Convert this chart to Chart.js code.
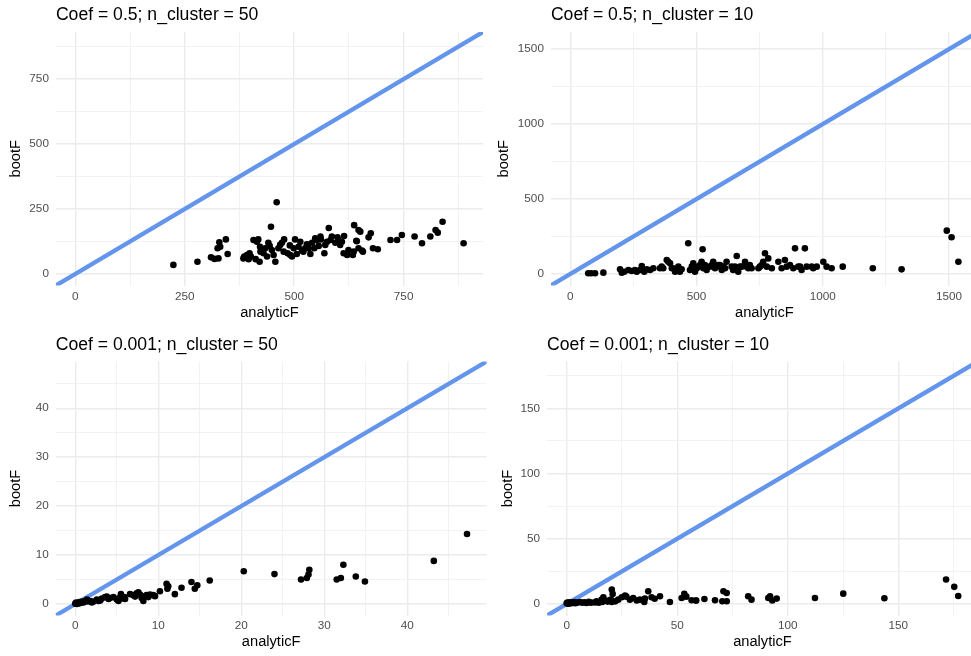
<!DOCTYPE html>
<html>
<head>
<meta charset="utf-8">
<script src="https://cdn.jsdelivr.net/npm/chart.js@4/dist/chart.umd.min.js"></script>
<style>
  html, body { margin: 0; padding: 0; background: #ffffff; }
  body { position: relative; width: 971px; height: 656px; overflow: hidden; }
  .panel { position: absolute; }
  .panel canvas { display: block; }
</style>
</head>
<body>
<div class="panel" style="left:0px;top:0px;"><canvas id="c05_n50" width="490" height="328"></canvas></div>
<div class="panel" style="left:485px;top:0px;"><canvas id="c05_n10" width="500" height="328"></canvas></div>
<div class="panel" style="left:0px;top:328px;"><canvas id="c0001_n50" width="490" height="328"></canvas></div>
<div class="panel" style="left:485px;top:328px;"><canvas id="c0001_n10" width="500" height="328"></canvas></div>
<script>
// ---- Coef = 0.5; n_cluster = 50 ----
const analyticF_c05_n50 = [224,279,310,318,327,325,329,331,344,348,384,392,396,398,401,407,418,421,422,430,
  434,438,441,447,449,457,460,453,464,472,477,476,485,495,499,502,506,510,514,518,
  525,531,537,541,546,552,556,561,569,571,579,583,586,594,599,609,614,613,621,624,
  634,637,642,647,651,647,655,670,675,680,691,720,735,746,775,792,811,823,828,839,
  887,415,423,444,468,491,521,529,548,560,575,601,605,643,636,657,386,412,490,533];
const bootF_c05_n50 = [35,47,64,58,60,99,122,105,133,77,60,73,57,80,67,131,133,47,105,80,
  99,67,120,182,92,47,276,73,99,120,133,86,80,67,99,133,77,105,124,90,
  99,112,77,120,99,131,108,133,80,112,177,131,144,120,141,124,146,80,73,92,
  73,188,128,169,163,99,90,141,157,99,95,131,131,150,144,118,144,169,159,201,
  118,124,86,108,112,73,86,114,137,144,124,131,112,126,86,86,67,57,110,98];
const breaks_c05_n50 = [0, 250, 500, 750];

// ---- Coef = 0.5; n_cluster = 10 ----
const analyticF_c05_n10 = [71,83,98,131,197,204,214,230,243,256,263,276,283,293,303,316,329,355,362,368,
  382,388,395,402,408,415,428,434,441,467,474,481,487,494,501,507,514,520,524,527,
  533,540,553,560,566,573,580,586,593,600,606,613,619,639,645,652,659,665,672,679,
  692,698,705,711,718,745,751,758,764,771,778,784,798,824,837,850,857,870,883,890,
  903,910,916,929,936,956,962,976,1002,1015,1035,1079,1198,1312,1491,1510,1537];
const bootF_c05_n10 = [5,5,5,9,31,9,15,27,20,27,15,27,53,15,31,27,38,38,49,38,
  93,82,71,38,38,15,49,15,31,205,27,49,71,15,38,49,60,82,165,38,
  60,27,49,60,82,38,49,60,60,27,49,38,82,49,27,49,120,15,49,49,
  82,49,38,60,38,38,49,60,82,138,49,104,38,82,38,93,49,60,38,171,
  49,49,27,171,49,49,38,49,82,49,38,49,38,31,289,245,82];
const breaks_c05_n10 = [0, 500, 1000, 1500];

// ---- Coef = 0.001; n_cluster = 50 ----
const analyticF_c0001_n50 = [0,0.1,0.2,0.3,0.5,0.6,0.8,1.0,1.2,1.4,1.5,2.2,2.6,3.0,3.2,3.6,3.8,4.2,4.6,5.0,
  5.3,5.5,5.6,5.9,6.6,7.0,7.4,7.6,7.8,8.0,8.2,8.4,8.6,9.0,9.4,9.6,10.2,11.0,11.2,11.1,
  12.0,12.8,14.0,14.4,14.7,16.2,20.3,24.0,27.2,27.9,28.1,28.2,31.5,32.0,32.3,33.8,34.9,43.2,47.2,0.05,
  0.15,0.4,0.7,1.8,2.0,2.8,4.0,5.2,6.0,7.2,8.8];
const bootF_c0001_n50 = [0.1,0.3,0,0.2,0.4,0.2,0.5,0.3,0.6,0.9,0.5,0.5,0.9,0.7,1.1,1.4,1.5,1.2,1.4,0.9,
  1.2,2.0,1.1,1.4,2.0,1.8,2.2,2.4,1.9,1.2,0.6,1.6,1.8,1.9,1.8,1.6,2.6,4.1,3.6,3.1,
  2.0,3.3,4.5,3.1,3.8,4.8,6.7,6.1,5.0,5.3,6.0,7.0,5.0,5.3,8.0,5.6,4.6,8.8,14.3,0.05,
  0.1,0.1,0.3,0.6,0.3,0.6,1.0,0.6,1.0,1.5,1.4];
const breaks_c0001_n50 = [0, 10, 20, 30, 40];

// ---- Coef = 0.001; n_cluster = 10 ----
const analyticF_c0001_n10 = [0,0.3,0.5,0.8,1.2,1.5,2.0,2.5,3.0,3.5,4.0,5.0,6.0,7.0,8.0,9.0,10.0,11.0,12.8,15.8,
  16.1,16.6,20.0,20.4,20.8,20.4,23.3,24.9,26.4,28.6,30.1,31.7,33.1,35.1,35.4,36.9,38.4,42.2,46.7,52.0,
  53.2,56.5,58.4,62.3,67.1,70.4,70.9,72.4,72.4,82.1,83.6,91.2,92.0,93.0,95.0,112.3,125.1,143.7,171.6,175.3,
  177.1,13.5,14.5,17.5,18.5,19.0,22.0,27.0,39.8,54.1,58.6];
const bootF_c0001_n10 = [0.5,1.0,0.2,0.8,0.4,1.2,0.6,1.0,0.8,1.4,0.5,1.1,1.5,0.9,1.3,0.7,1.6,1.0,1.2,3.3,
  1.5,5.1,3.3,1.5,7.7,11.0,3.3,5.1,6.4,3.3,4.6,2.6,3.3,1.5,4.1,9.7,5.1,5.9,1.5,4.6,
  7.7,2.8,2.6,3.8,2.8,2.1,9.7,8.4,2.1,5.9,3.3,4.6,5.9,2.6,4.1,4.6,7.9,4.4,18.7,13.1,
  6.1,2.0,1.0,2.5,1.8,2.6,2.0,5.6,4.0,5.6,2.6];
const breaks_c0001_n10 = [0, 50, 100, 150];

const FONT = '"Liberation Sans", Arial, Helvetica, sans-serif';
const GRID_MAJOR = '#EBEBEB';
const GRID_MINOR = '#F0F0F0';

// Panel title drawn flush with the left edge of the plotting area
const panelTitle = {
  id: 'panelTitle',
  afterDraw(chart, args, opts) {
    const { ctx, chartArea } = chart;
    ctx.save();
    ctx.font = '17.6px ' + FONT;
    ctx.fillStyle = '#000000';
    ctx.textAlign = 'left';
    ctx.textBaseline = 'alphabetic';
    ctx.fillText(opts.text, chartArea.left, opts.baseline);
    ctx.restore();
  }
};

// Shared axis limits: [0, max of both variables] widened by 5% on each side
function limits(xs, ys) {
  const hi = Math.max(0, ...xs, ...ys);
  const lo = Math.min(0, ...xs, ...ys);
  const pad = (hi - lo) * 0.05;
  return [lo - pad, hi + pad];
}

// Major breaks plus the minor lines half-way between them
function gridValues(breaks, lo, hi) {
  const step = breaks[1] - breaks[0];
  const out = [];
  for (let v = breaks[0] - step; v <= breaks[breaks.length - 1] + step + 1e-9; v += step / 2) {
    const r = Math.round(v * 1e6) / 1e6;
    if (r >= lo && r <= hi) out.push(r);
  }
  return out;
}

function axis(p, lo, hi, which) {
  const vals = gridValues(p.breaks, lo, hi);
  const isMajor = v => p.breaks.includes(v);
  const horizontal = which === 'x';
  return {
    type: 'linear',
    position: horizontal ? 'bottom' : 'left',
    min: lo,
    max: hi,
    afterBuildTicks: s => { s.ticks = vals.map(v => ({ value: v })); },
    afterFit: s => {
      if (horizontal) s.height = p.xAxisH; else s.width = p.yAxisW;
    },
    grid: {
      drawTicks: false,
      color: ctx => (ctx.tick && isMajor(ctx.tick.value)) ? GRID_MAJOR : GRID_MINOR,
      lineWidth: ctx => (ctx.tick && isMajor(ctx.tick.value)) ? 1.4 : 0.9
    },
    border: { display: false },
    ticks: {
      autoSkip: false,
      maxRotation: 0,
      minRotation: 0,
      padding: horizontal ? p.xTickPad : 7,
      color: '#4D4D4D',
      font: { family: FONT, size: 11.73 },
      callback: v => isMajor(v) ? String(v) : ''
    },
    title: {
      display: true,
      text: horizontal ? 'analyticF' : 'bootF',
      color: '#000000',
      font: { family: FONT, size: 14.67 },
      padding: horizontal ? { top: 0, bottom: p.xTitleOff } : { top: p.yTitleOff, bottom: 0 }
    }
  };
}

const panels = [
  { canvas: 'c05_n50', title: 'Coef = 0.5; n_cluster = 50',
    xs: analyticF_c05_n50, ys: bootF_c05_n50, breaks: breaks_c05_n50,
    yAxisW: 55.9, padR: 7, padTop: 32, xAxisH: 42.5, titleBase: 20, yTitleOff: 6.7, xTitleOff: 6.6, xTickPad: 4 },
  { canvas: 'c05_n10', title: 'Coef = 0.5; n_cluster = 10',
    xs: analyticF_c05_n10, ys: bootF_c05_n10, breaks: breaks_c05_n10,
    yAxisW: 65.9, padR: 7.2, padTop: 32, xAxisH: 42.5, titleBase: 20, yTitleOff: 10, xTitleOff: 6.6, xTickPad: 4 },
  { canvas: 'c0001_n50', title: 'Coef = 0.001; n_cluster = 50',
    xs: analyticF_c0001_n50, ys: bootF_c0001_n50, breaks: breaks_c0001_n50,
    yAxisW: 55.7, padR: 3.4, padTop: 33.5, xAxisH: 40.5, titleBase: 22, yTitleOff: 6.7, xTitleOff: 5.3, xTickPad: 3 },
  { canvas: 'c0001_n10', title: 'Coef = 0.001; n_cluster = 10',
    xs: analyticF_c0001_n10, ys: bootF_c0001_n10, breaks: breaks_c0001_n10,
    yAxisW: 62.1, padR: 7.2, padTop: 33.5, xAxisH: 40.5, titleBase: 22, yTitleOff: 13.7, xTitleOff: 5.3, xTickPad: 3 }
];

panels.forEach(p => {
  const [lo, hi] = limits(p.xs, p.ys);
  const points = p.xs.map((x, i) => ({ x: x, y: p.ys[i] }));
  new Chart(document.getElementById(p.canvas), {
    type: 'scatter',
    data: {
      datasets: [
        {
          label: 'runs',
          data: points,
          pointRadius: 3.3,
          pointHoverRadius: 3.3,
          pointBackgroundColor: '#000000',
          pointBorderWidth: 0,
          borderWidth: 0
        },
        {
          type: 'line',
          label: 'bootF = analyticF',
          data: [{ x: lo, y: lo }, { x: hi, y: hi }],
          borderColor: '#6495ED',
          borderWidth: 4.3,
          pointRadius: 0,
          fill: false,
          tension: 0
        }
      ]
    },
    options: {
      responsive: false,
      animation: false,
      events: [],
      layout: { padding: { top: p.padTop, right: p.padR, left: 0, bottom: 0 } },
      scales: {
        x: axis(p, lo, hi, 'x'),
        y: axis(p, lo, hi, 'y')
      },
      plugins: {
        legend: { display: false },
        tooltip: { enabled: false },
        title: { display: false },
        panelTitle: { text: p.title, baseline: p.titleBase }
      }
    },
    plugins: [panelTitle]
  });
});
</script>
</body>
</html>
